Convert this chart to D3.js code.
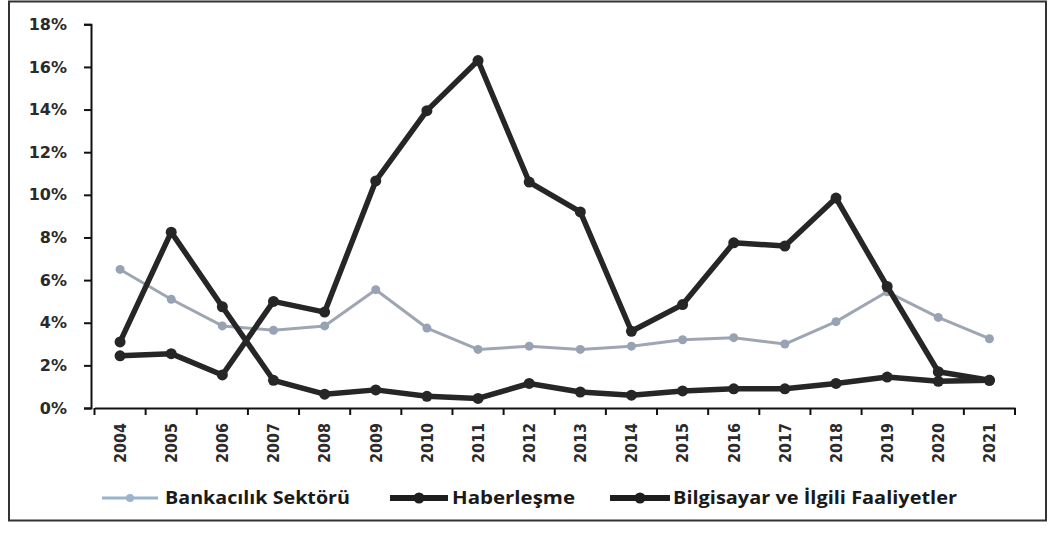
<!DOCTYPE html>
<html><head><meta charset="utf-8">
<script src="https://cdn.jsdelivr.net/npm/d3@7"></script>
<style>body{margin:0;background:#fff}svg{display:block}</style>
</head><body><svg id="c" width="1049" height="535"></svg>
<script>
const years = ["2004","2005","2006","2007","2008","2009","2010","2011","2012","2013","2014","2015","2016","2017","2018","2019","2020","2021"];
const bankacilik = [6.5,5.1,3.85,3.65,3.85,5.55,3.75,2.75,2.9,2.75,2.9,3.2,3.3,3.0,4.05,5.45,4.25,3.25];
const haberlesme = [3.1,8.25,4.75,1.3,0.65,0.85,0.55,0.45,1.15,0.75,0.6,0.8,0.9,0.9,1.15,1.45,1.25,1.3];
const bilgisayar = [2.45,2.55,1.55,5.0,4.5,10.65,13.95,16.3,10.6,9.2,3.6,4.85,7.75,7.6,9.85,5.7,1.7,1.3];
const yTicks = [0,2,4,6,8,10,12,14,16,18];
const seriesNames = ["Bankacılık Sektörü","Haberleşme","Bilgisayar ve İlgili Faaliyetler"];

const svg = d3.select("#c");
svg.append("rect").attr("x",9).attr("y",1.5).attr("width",1037).attr("height",519)
  .attr("fill","none").attr("stroke","#333").attr("stroke-width",2);

const x = d3.scaleBand().domain(years).range([94.5,1015]);
const y = d3.scaleLinear().domain([0,18]).range([408,24.3]);

const ya = svg.append("g").attr("transform","translate(91,0)")
  .call(d3.axisLeft(y).tickValues(yTicks).tickFormat(d=>d+"%").tickSize(7).tickPadding(17));
ya.select(".domain").attr("stroke","#111").attr("stroke-width",2);
ya.selectAll(".tick line").attr("stroke","#111").attr("stroke-width",2);
ya.selectAll("text").attr("font-family","DejaVu Sans").attr("font-weight","bold")
  .attr("font-size",16).attr("fill","#2a2a2a");

const xa = svg.append("g").attr("transform","translate(0,408)")
  .call(d3.axisBottom(x).tickSize(0).tickPadding(0));
xa.select(".domain").attr("stroke","#111").attr("stroke-width",2);
xa.selectAll(".tick text").attr("font-family","DejaVu Sans").attr("font-weight","bold")
  .attr("font-size",16).attr("fill","#2a2a2a")
  .attr("text-anchor","end").attr("dy","0.36em").attr("x",0).attr("y",0)
  .attr("textLength",40).attr("lengthAdjust","spacingAndGlyphs")
  .attr("transform","translate(0,15) rotate(-90)");
const bounds = years.map(d=>x(d)).concat([x(years[years.length-1])+x.bandwidth()]);
xa.selectAll(".btick").data(bounds).enter().append("line").attr("class","btick")
  .attr("x1",d=>d).attr("x2",d=>d).attr("y1",0).attr("y2",7)
  .attr("stroke","#111").attr("stroke-width",2);

const cx = d => x(d)+x.bandwidth()/2;
const line = d3.line().x((d,i)=>cx(years[i])).y(d=>y(d));

function drawSeries(vals, color, w, r, mcolor){
  svg.append("path").datum(vals).attr("d",line).attr("fill","none")
    .attr("stroke",color).attr("stroke-width",w).attr("stroke-linejoin","round");
  svg.selectAll(null).data(vals).enter().append("circle")
    .attr("cx",(d,i)=>cx(years[i])).attr("cy",d=>y(d)).attr("r",r).attr("fill",mcolor);
}
drawSeries(bankacilik,"#9ea6b4",3,4.5,"#97a3b3");
drawSeries(bilgisayar,"#262626",5.5,5.5,"#262626");
drawSeries(haberlesme,"#262626",5.5,5.5,"#262626");

const legend = [
  {name:seriesNames[0], x1:102, x2:158, color:"#9ab3cf", w:3, r:4, tx:165, tw:185},
  {name:seriesNames[1], x1:390, x2:448, color:"#1e1e1e", w:6, r:5.5, tx:452, tw:123},
  {name:seriesNames[2], x1:610, x2:670, color:"#1e1e1e", w:6, r:5.5, tx:673, tw:284}
];
const lg = svg.append("g");
legend.forEach(l=>{
  lg.append("line").attr("x1",l.x1).attr("x2",l.x2).attr("y1",498).attr("y2",498)
    .attr("stroke",l.color).attr("stroke-width",l.w);
  lg.append("circle").attr("cx",(l.x1+l.x2)/2).attr("cy",498).attr("r",l.r).attr("fill",l.color);
  lg.append("text").attr("x",l.tx).attr("y",498).attr("dy","0.36em")
    .attr("font-family","Open Sans").attr("font-weight","bold").attr("font-size",17).attr("fill","#1a1a1a")
    .attr("textLength",l.tw).attr("lengthAdjust","spacingAndGlyphs").text(l.name);
});
</script></body></html>
